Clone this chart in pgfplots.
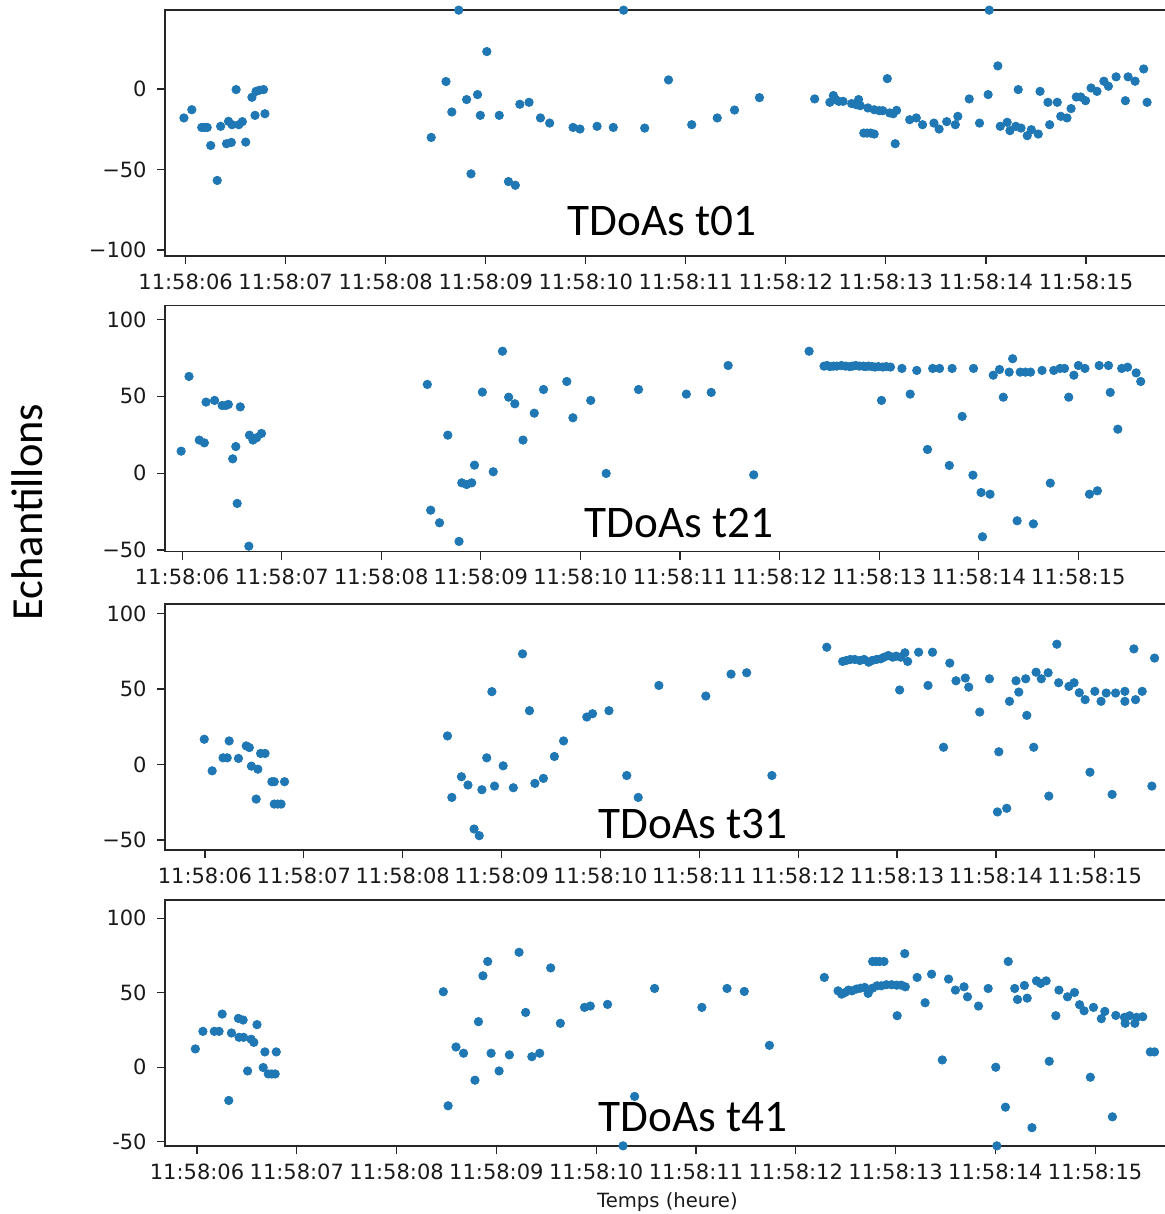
\documentclass[border=0pt]{standalone}
\usepackage{fontspec}
\setmainfont{DejaVu Sans}
\newfontfamily\carlito{Carlito}
\usepackage{pgfplots}
\pgfplotsset{compat=1.18}
\definecolor{mplblue}{HTML}{1F77B4}
\definecolor{tickgray}{HTML}{1A1A1A}
\pgfplotsset{
  panel/.style={
    scale only axis, width=500.5pt, height=123pt,
    anchor=south west,
    axis line style={line width=0.6pt, black!85},
    tick align=outside, major tick length=4pt,
    major tick style={line width=0.6pt, black!85},
    xtick pos=lower, ytick pos=left,
    xtick={0,1,2,3,4,5,6,7,8,9},
    xticklabels={11:58:06,11:58:07,11:58:08,11:58:09,11:58:10,11:58:11,11:58:12,11:58:13,11:58:14,11:58:15},
    ticklabel style={font=\fontsize{10.5}{12}\selectfont, text=tickgray},
    xticklabel style={anchor=north, inner sep=0pt},
    yticklabel style={anchor=east, inner sep=0pt},
    xticklabel shift=4.6pt, yticklabel shift=5pt,
    clip=true,
  },
  dots/.style={only marks, mark=*, mark size=2.1pt, color=mplblue},
}
\begin{document}
\begin{tikzpicture}
% ---------------- Panel 1 ----------------
\begin{axis}[panel, at={(82.5pt,-128pt)}, xmin=-0.206, xmax=9.80, ymin=-103.7, ymax=49,
  ytick={-100,-50,0}, yticklabels={−100,−50,0}]
\addplot[dots] table {
-0.017 -18.0
0.062 -12.9
0.161 -23.9
0.189 -23.9
0.216 -23.9
0.251 -35.1
0.316 -56.8
0.350 -23.2
0.409 -34.0
0.429 -20.1
0.457 -33.2
0.464 -22.2
0.505 -0.4
0.532 -22.2
0.567 -20.3
0.601 -33.0
0.663 -5.2
0.694 -16.4
0.704 -1.5
0.738 -0.8
0.779 -0.4
0.793 -15.4
2.455 -30.1
2.603 4.6
2.661 -14.3
2.730 48.9
2.809 -6.6
2.853 -52.7
2.918 -3.5
2.946 -16.4
3.011 23.2
3.135 -16.4
3.227 -57.5
3.296 -59.8
3.341 -9.5
3.433 -8.3
3.547 -18.0
3.639 -21.2
3.873 -23.9
3.942 -24.9
4.113 -23.2
4.275 -23.9
4.378 48.9
4.589 -24.3
4.827 5.6
5.059 -22.2
5.314 -18.0
5.487 -13.1
5.736 -5.4
6.288 -6.2
6.440 -8.3
6.475 -4.1
6.496 -6.6
6.530 -7.7
6.572 -7.7
6.658 -9.1
6.703 -9.8
6.727 -6.6
6.744 -10.4
6.779 -27.4
6.813 -27.4
6.848 -27.4
6.883 -28.0
6.820 -11.8
6.883 -12.9
6.934 -13.5
6.969 -13.5
7.014 6.4
7.038 -14.9
7.073 -15.4
7.107 -13.3
7.093 -34.0
7.238 -19.1
7.304 -18.0
7.366 -22.2
7.480 -21.2
7.532 -24.9
7.608 -20.3
7.694 -22.2
7.719 -17.0
7.833 -6.2
7.936 -21.2
8.022 -3.5
8.033 48.9
8.119 14.3
8.143 -23.2
8.212 -20.7
8.240 -25.9
8.299 -23.2
8.323 -0.4
8.351 -24.3
8.413 -29.0
8.454 -25.3
8.523 -28.0
8.541 -1.5
8.620 -8.3
8.637 -22.2
8.713 -8.3
8.748 -17.0
8.810 -18.0
8.851 -12.2
8.903 -5.0
8.948 -5.0
8.996 -7.3
9.051 0.6
9.110 -1.5
9.179 4.8
9.224 1.7
9.301 7.5
9.394 -7.3
9.421 7.5
9.491 4.8
9.577 12.4
9.611 -8.3
};
\end{axis}
% ---------------- Panel 2 ----------------
\begin{axis}[panel, at={(82.5pt,-275.85pt)}, xmin=-0.172, xmax=9.88, ymin=-51.1, ymax=108.9,
  ytick={-50,0,50,100}, yticklabels={−50,0,50,100}]
\addplot[dots] table {
-0.010 14.3
0.069 62.9
0.172 21.5
0.223 19.7
0.240 46.2
0.326 47.3
0.402 44.0
0.439 44.0
0.464 44.7
0.508 9.3
0.539 17.3
0.553 -19.7
0.584 43.1
0.670 -47.5
0.676 24.7
0.711 21.5
0.748 23.0
0.797 25.8
2.462 57.7
2.496 -24.1
2.585 -32.3
2.668 24.7
2.781 -44.4
2.808 -6.3
2.857 -7.4
2.908 -6.3
2.936 5.2
3.015 52.7
3.124 0.9
3.217 79.3
3.279 49.4
3.341 45.1
3.423 21.5
3.536 39.0
3.629 54.4
3.863 59.6
3.924 36.0
4.103 47.3
4.258 -0.2
4.583 54.4
5.063 51.4
5.313 52.5
5.483 70.0
5.740 -1.1
6.296 79.3
6.446 69.6
6.477 70.0
6.505 69.3
6.540 69.6
6.574 69.6
6.620 70.0
6.661 69.6
6.703 69.3
6.731 69.6
6.765 70.0
6.800 69.6
6.839 69.6
6.863 69.3
6.894 69.6
6.929 69.3
6.957 69.0
6.991 69.3
7.036 69.0
7.071 69.3
7.113 69.0
7.023 47.3
7.228 68.1
7.311 51.4
7.377 66.8
7.485 15.4
7.537 68.1
7.606 68.1
7.704 5.0
7.732 68.1
7.833 36.9
7.941 -1.3
7.947 68.1
8.023 -12.6
8.037 -41.4
8.113 -13.7
8.145 63.7
8.208 67.4
8.246 49.4
8.305 65.7
8.340 74.4
8.385 -31.0
8.416 65.7
8.468 65.7
8.520 65.7
8.548 -33.0
8.635 66.8
8.718 -6.5
8.753 66.8
8.816 68.1
8.861 68.1
8.903 49.4
8.955 63.7
9.000 70.0
9.066 68.1
9.111 -13.7
9.191 -11.5
9.209 70.0
9.302 70.0
9.320 52.5
9.396 28.6
9.435 68.1
9.494 68.9
9.580 65.2
9.626 59.6
};
\end{axis}
% ---------------- Panel 3 ----------------
\begin{axis}[panel, at={(82.5pt,-425pt)}, xmin=-0.404, xmax=9.72, ymin=-56.6, ymax=106.2,
  ytick={-50,0,50,100}, yticklabels={−50,0,50,100}]
\addplot[dots] table {
-0.007 16.7
0.073 -4.2
0.183 4.4
0.225 4.4
0.245 15.6
0.339 4.0
0.418 12.3
0.449 11.2
0.470 -1.1
0.518 -22.9
0.535 -3.1
0.563 7.3
0.608 7.3
0.677 -11.4
0.701 -11.4
0.701 -26.2
0.736 -26.2
0.770 -26.2
0.805 -11.4
2.453 18.9
2.497 -21.8
2.594 -8.1
2.660 -13.6
2.722 -42.7
2.774 -47.1
2.801 -16.7
2.850 4.4
2.902 48.2
2.929 -14.3
3.016 -0.9
3.119 -15.4
3.212 73.2
3.282 35.6
3.337 -12.5
3.423 -9.2
3.534 5.3
3.627 15.6
3.862 31.4
3.920 33.6
4.086 35.6
4.266 -7.3
4.382 -21.8
4.591 52.3
5.066 45.3
5.321 59.8
5.479 60.7
5.734 -7.3
6.289 77.6
6.450 68.2
6.485 68.8
6.527 69.5
6.572 69.5
6.624 68.8
6.666 69.5
6.712 67.7
6.747 68.8
6.792 69.5
6.834 69.9
6.869 71.0
6.911 72.1
6.956 71.0
6.991 71.7
7.037 71.0
7.079 73.9
7.107 68.2
7.026 49.3
7.218 74.3
7.313 52.3
7.358 74.3
7.470 11.4
7.533 67.1
7.596 55.4
7.690 57.2
7.725 51.2
7.836 34.7
7.934 56.7
8.015 -31.4
8.029 8.4
8.109 -29.0
8.137 41.8
8.203 55.4
8.231 47.9
8.301 56.7
8.312 32.5
8.382 11.4
8.406 61.1
8.459 56.7
8.528 60.7
8.535 -20.9
8.616 79.6
8.634 54.1
8.738 51.7
8.790 54.1
8.843 47.5
8.902 42.9
8.951 -5.1
9.000 48.4
9.063 41.8
9.115 47.3
9.175 -19.8
9.210 47.3
9.304 48.4
9.304 41.8
9.395 76.5
9.412 42.9
9.479 48.4
9.577 -14.3
9.604 70.4
};
\end{axis}
% ---------------- Panel 4 ----------------
\begin{axis}[panel, at={(82.5pt,-573pt)}, xmin=-0.321, xmax=9.71, ymin=-52.9, ymax=112.3,
  ytick={-50,0,50,100}, yticklabels={-50,0,50,100}]
\addplot[dots] table {
-0.017 12.3
0.059 24.1
0.173 24.1
0.221 24.1
0.252 35.7
0.318 -22.3
0.345 23.0
0.414 32.8
0.421 20.1
0.462 31.7
0.466 20.1
0.507 -2.5
0.542 18.8
0.569 16.7
0.601 28.6
0.663 -0.2
0.680 10.3
0.714 -4.5
0.749 -4.5
0.783 -4.5
0.794 10.3
2.468 50.7
2.516 -25.9
2.595 13.6
2.671 9.4
2.785 -8.7
2.820 30.6
2.865 61.4
2.913 71.0
2.947 9.4
3.027 -2.5
3.130 8.3
3.227 77.2
3.293 36.8
3.355 7.1
3.434 9.4
3.544 66.7
3.641 29.5
3.883 40.2
3.941 41.1
4.114 42.2
4.269 -52.8
4.385 -19.6
4.585 52.9
5.059 40.2
5.311 52.9
5.484 50.9
5.736 14.7
6.286 60.3
6.424 51.3
6.459 49.1
6.494 50.2
6.528 51.8
6.563 51.3
6.608 52.5
6.649 53.1
6.691 53.6
6.725 49.6
6.770 53.1
6.815 54.7
6.857 54.7
6.908 55.4
6.960 55.4
7.012 55.1
7.057 55.1
7.098 54.0
6.770 71.0
6.805 71.0
6.839 71.0
6.884 71.0
7.016 34.6
7.092 76.3
7.216 60.3
7.296 43.3
7.361 62.5
7.468 4.9
7.531 59.2
7.600 51.8
7.686 54.0
7.721 47.3
7.831 41.1
7.928 52.9
8.004 0.0
8.015 -52.8
8.101 -26.8
8.129 71.0
8.194 52.9
8.222 45.5
8.291 54.9
8.319 46.4
8.367 -40.6
8.412 58.0
8.454 56.3
8.509 58.0
8.540 4.0
8.606 34.6
8.637 51.8
8.723 47.3
8.793 50.2
8.844 42.0
8.889 37.9
8.952 -6.7
8.983 40.2
9.062 32.6
9.097 37.5
9.173 -33.3
9.207 34.8
9.294 33.5
9.301 29.5
9.346 34.6
9.398 29.5
9.415 33.5
9.477 33.9
9.553 10.3
9.595 10.3
};
\end{axis}
% ---------------- Texts ----------------
\node[anchor=base west, inner sep=0pt, font=\carlito\fontsize{22.6}{27}\selectfont] at (283.5pt,-117.5pt) {TDoAs t01};
\node[anchor=base west, inner sep=0pt, font=\carlito\fontsize{22.6}{27}\selectfont] at (292pt,-268.5pt) {TDoAs t21};
\node[anchor=base west, inner sep=0pt, font=\carlito\fontsize{22.6}{27}\selectfont] at (299pt,-419pt) {TDoAs t31};
\node[anchor=base west, inner sep=0pt, font=\carlito\fontsize{22.6}{27}\selectfont] at (299pt,-565.5pt) {TDoAs t41};
\node[rotate=90, anchor=base, inner sep=0pt, font=\carlito\fontsize{22.2}{26}\selectfont] at (21pt,-256pt) {Echantillons};
\node[anchor=base, inner sep=0pt, font=\fontsize{9.8}{12}\selectfont, text=tickgray] at (333.7pt,-603.6pt) {Temps (heure)};
\pgfresetboundingbox
\path[use as bounding box] (0pt,0pt) rectangle (582pt,-607pt);
\end{tikzpicture}
\end{document}
